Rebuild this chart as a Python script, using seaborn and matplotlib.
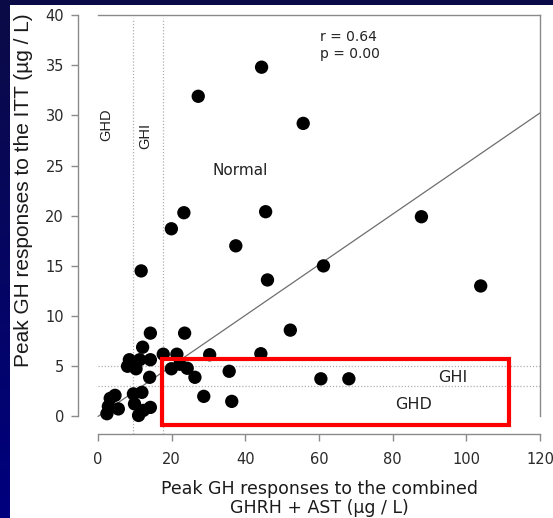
import numpy as np
import pandas as pd
import matplotlib
matplotlib.use("Agg")
import matplotlib.pyplot as plt
from matplotlib.patches import Rectangle
from matplotlib.colors import LinearSegmentedColormap
import seaborn as sns

# Peak GH after GHRH + AST (x) and after ITT (y), µg/L
ghrh_ast = [44.4, 27.2, 55.7, 23.3, 45.5, 19.9, 37.4, 87.8, 61.2, 103.9,
            52.2, 46.0, 11.7, 14.2, 23.5, 12.1, 17.7, 21.4, 30.3, 44.2,
            8.5, 11.3, 14.2, 8.0, 10.3, 19.9, 22.2, 24.2, 26.3, 14.0,
            35.6, 28.7, 36.3, 4.6, 2.8, 5.5, 2.4, 9.6, 11.9, 9.9,
            14.2, 11.0, 12.3, 60.5, 68.1, 3.3]
itt = [34.8, 31.9, 29.2, 20.3, 20.4, 18.7, 17.0, 19.9, 15.0, 13.0,
       8.6, 13.6, 14.5, 8.3, 8.3, 6.9, 6.2, 6.2, 6.15, 6.25,
       5.65, 5.65, 5.65, 5.0, 4.75, 4.75, 5.2, 4.8, 3.9, 3.9,
       4.5, 2.0, 1.5, 2.1, 1.0, 0.75, 0.27, 2.25, 2.4, 1.25,
       0.9, 0.1, 0.6, 3.75, 3.75, 1.8]

# Regression line and diagnostic cut-offs
fit_intercept = 0.0
fit_slope = 0.252
x_cutoffs = [9.5, 17.5]
y_cutoffs = [3.0, 5.0]

x_ticks = [0, 20, 40, 60, 80, 100, 120]
y_ticks = [0, 5, 10, 15, 20, 25, 30, 35, 40]

df = pd.DataFrame({"ghrh_ast": ghrh_ast, "itt": itt})

sns.set_theme(style="ticks")
plt.rcParams["font.family"] = ["DejaVu Sans"]
NARROW = ["Liberation Sans", "DejaVu Sans"]

W, H = 553, 518
fig = plt.figure(figsize=(W / 100, H / 100), dpi=100)

# slide background: navy gradient behind a white panel
bg = fig.add_axes([0, 0, 1, 1], zorder=-10)
cmap = LinearSegmentedColormap.from_list("slide", ["#0b0b46", "#00007e"])
bg.imshow(np.linspace(0, 1, 256).reshape(-1, 1), aspect="auto", cmap=cmap,
          extent=[0, 1, 0, 1], origin="upper")
bg.add_patch(Rectangle((10 / W, 0), 1 - 10 / W, 1 - 5 / H,
                       facecolor="white", edgecolor="none"))
bg.set_xlim(0, 1)
bg.set_ylim(0, 1)
bg.axis("off")

ax = fig.add_axes([78 / W, 1 - 434 / H, (540 - 78) / W, (434 - 15) / H])
ax.patch.set_alpha(0)

sns.scatterplot(data=df, x="ghrh_ast", y="itt", ax=ax, s=92,
                color="black", edgecolor="none", linewidth=0, zorder=4)

xl = np.array([0, 120])
ax.plot(xl, fit_intercept + fit_slope * xl, color="#6e6e6e", lw=0.9, zorder=3)

for xv in x_cutoffs:
    ax.plot([xv, xv], [-1.75, 39.7], color="#b0b0b0", lw=0.9,
            ls=(0, (1, 1.5)), zorder=2)
for yv in y_cutoffs:
    ax.plot([0, 120], [yv, yv], color="#b0b0b0", lw=0.9,
            ls=(0, (1, 1.5)), zorder=2)

ax.set_xlim(-5.45, 120)
ax.set_ylim(-1.75, 40)
ax.set_xticks(x_ticks)
ax.set_yticks(y_ticks)
ax.set_xticklabels([str(t) for t in x_ticks])
ax.set_yticklabels([str(t) for t in y_ticks])

frame_col = "#8a8a8a"
for side in ["left", "bottom", "top", "right"]:
    ax.spines[side].set_visible(True)
    ax.spines[side].set_color(frame_col)
    ax.spines[side].set_linewidth(1.0)
ax.spines["left"].set_bounds(0, 40)
ax.spines["right"].set_bounds(0, 40)
ax.spines["bottom"].set_bounds(0, 120)
ax.spines["top"].set_bounds(0, 120)

ax.tick_params(axis="both", direction="out", length=5, width=1.0,
               color=frame_col, labelsize=10.5, labelcolor="#2a2a2a", pad=5)
ax.tick_params(axis="x", pad=8)

ax.set_xlabel("Peak GH responses to the combined\nGHRH + AST (µg / L)",
              fontsize=12.5, color="#1a1a1a", labelpad=9, linespacing=1.1)
ax.set_ylabel("Peak GH responses to the ITT (µg / L)",
              fontsize=15, color="#1a1a1a", labelpad=9, family=NARROW)
ax.xaxis.label.set_x(0.522)
ax.yaxis.label.set_y(0.582)

txt = dict(color="#222222")
ax.text(2.2, 29.1, "GHD", rotation=90, ha="center", va="center",
        fontsize=10.5, family=NARROW, **txt)
ax.text(12.8, 27.9, "GHI", rotation=90, ha="center", va="center",
        fontsize=10.5, family=NARROW, **txt)
ax.text(38.5, 24.5, "Normal", ha="center", va="center", fontsize=11, **txt)
ax.text(60.3, 37.8, "r = 0.64", ha="left", va="center", fontsize=10, **txt)
ax.text(60.3, 36.1, "p = 0.00", ha="left", va="center", fontsize=10, **txt)
ax.text(96.4, 3.85, "GHI", ha="center", va="center", fontsize=11.5, **txt)
ax.text(85.8, 1.2, "GHD", ha="center", va="center", fontsize=11.5, **txt)

ax.add_patch(Rectangle((17.3, -0.85), 111.6 - 17.3, 5.7 + 0.85,
                       fill=False, edgecolor="#ff0000", lw=3.0, zorder=5,
                       clip_on=False))

fig.savefig("out.png", dpi=100)
